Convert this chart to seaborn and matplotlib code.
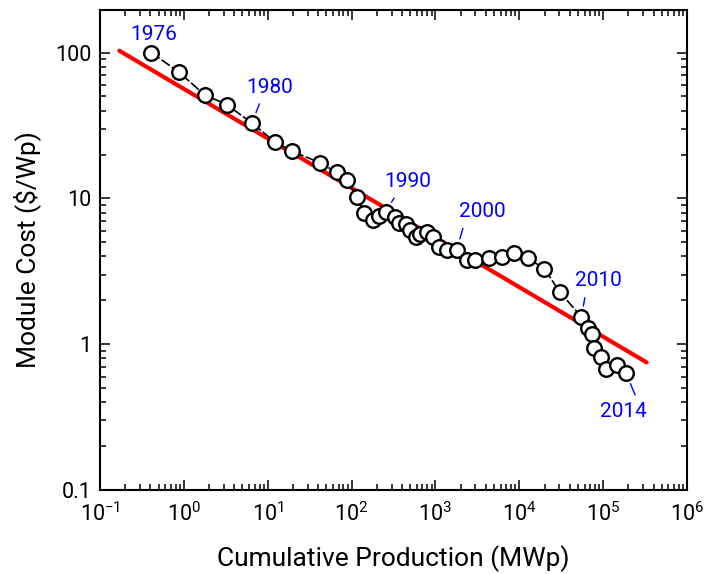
import matplotlib
matplotlib.use("Agg")
import matplotlib.pyplot as plt
import matplotlib.ticker as mticker
import seaborn as sns
import pandas as pd
import numpy as np

# ---- data ----
cum_mwp = [0.41, 0.865, 1.77, 3.27, 6.5, 12.1, 19.7, 41.8, 66.2, 88.7, 115, 142, 178, 214, 255,
           329, 371, 446, 498, 587, 655, 787, 929, 1114, 1387, 1795, 2364, 2972,
           4410, 6200, 8700, 12540, 19860, 30200, 55000, 66000, 73700, 78500, 95100,
           109000, 147000, 188000]
cost = [100, 73.8, 51.3, 43.9, 32.8, 24.5, 21.0, 17.6, 15.1, 13.4, 10.2, 7.94, 7.14, 7.6, 8.1,
        7.47, 6.8, 6.72, 6.1, 5.44, 5.73, 5.85, 5.44, 4.65, 4.46, 4.46, 3.76, 3.76,
        3.88, 3.98, 4.2, 3.9, 3.3, 2.29, 1.54, 1.30, 1.17, 0.946, 0.82,
        0.68, 0.72, 0.63]
fit_x = [0.17, 3.3e5]
fit_y = [103, 0.75]
label_years = ["1976", "1980", "1990", "2000", "2010", "2014"]
label_index = [0, 4, 14, 25, 34, 41]
x_ticks = [1e-1, 1e0, 1e1, 1e2, 1e3, 1e4, 1e5, 1e6]
y_ticks = [0.1, 1, 10, 100]
y_tick_labels = ["0.1", "1", "10", "100"]

df = pd.DataFrame({"cum": cum_mwp, "cost": cost})
fit = pd.DataFrame({"x": fit_x, "y": fit_y})

sns.set_theme(style="ticks")
plt.rcParams["font.family"] = ["Roboto", "DejaVu Sans"]
plt.rcParams["mathtext.fontset"] = "custom"
plt.rcParams["mathtext.rm"] = "Roboto"
plt.rcParams["mathtext.it"] = "Roboto"
plt.rcParams["mathtext.bf"] = "Roboto"

fig = plt.figure(figsize=(7.06, 5.74), dpi=100)
ax = fig.add_axes([100 / 706, 1 - 490 / 574, 587 / 706, 480 / 574])

sns.lineplot(data=fit, x="x", y="y", ax=ax, color="#ff0000", linewidth=3.0, zorder=2)
sns.lineplot(data=df, x="cum", y="cost", ax=ax, sort=False, color="black", linewidth=1.2,
             linestyle=(0, (6, 1.5)), marker="o", markersize=10.5, markerfacecolor="white",
             markeredgecolor="black", markeredgewidth=1.7, zorder=3)

ax.set_xscale("log")
ax.set_yscale("log")
ax.set_xlim(1e-1, 1e6)
ax.set_ylim(0.1, 196)

ax.xaxis.set_major_locator(mticker.FixedLocator(x_ticks))
ax.xaxis.set_major_formatter(mticker.FuncFormatter(lambda v, p: r"$10^{%d}$" % int(round(np.log10(v)))))
ax.xaxis.set_minor_locator(mticker.LogLocator(base=10, subs=np.arange(2, 10), numticks=20))
ax.xaxis.set_minor_formatter(mticker.NullFormatter())
ax.yaxis.set_major_locator(mticker.FixedLocator(y_ticks))
ax.yaxis.set_major_formatter(mticker.FixedFormatter(y_tick_labels))
ax.yaxis.set_minor_locator(mticker.LogLocator(base=10, subs=np.arange(2, 10), numticks=20))
ax.yaxis.set_minor_formatter(mticker.NullFormatter())

ax.tick_params(which="both", direction="in", top=True, right=True, color="black", width=1.1)
ax.tick_params(which="major", length=7, labelsize=15.5, labelcolor="black")
ax.tick_params(axis="y", which="major", pad=6)
ax.tick_params(axis="x", which="major", pad=9)
ax.tick_params(which="minor", length=4)
for s in ax.spines.values():
    s.set_linewidth(1.5)
    s.set_color("black")
    s.set_visible(True)

ax.set_xlabel("Cumulative Production (MWp)", fontsize=19, labelpad=14, color="black")
ax.set_ylabel("Module Cost ($/Wp)", fontsize=19, labelpad=10, color="black")

# annotations: (text offset px, relpos, shrinkA, shrinkB, leader?)
ann_cfg = [((2, 18), (0.5, 0), 0, 0, False),
           ((18, 36), (0.33, 0), 3, 8, True),
           ((22, 30), (0.3, 0), 3, 8, True),
           ((26, 38), (0.12, 0), 3, 8, True),
           ((17, 36), (0.24, 0), 3, 8, True),
           ((-3, -38), (0.82, 1), 3, 8, True)]
for yr, idx, (off, rel, sa, sb, lead) in zip(label_years, label_index, ann_cfg):
    props = dict(arrowstyle="-", color="#0000ff", lw=1.0, shrinkA=sa, shrinkB=sb, relpos=rel) if lead else None
    ax.annotate(yr, xy=(cum_mwp[idx], cost[idx]), xytext=off, textcoords="offset pixels",
                ha="center", va="center", fontsize=15, color="#0000ff",
                arrowprops=props, zorder=4)

fig.savefig("out.png", dpi=100)
